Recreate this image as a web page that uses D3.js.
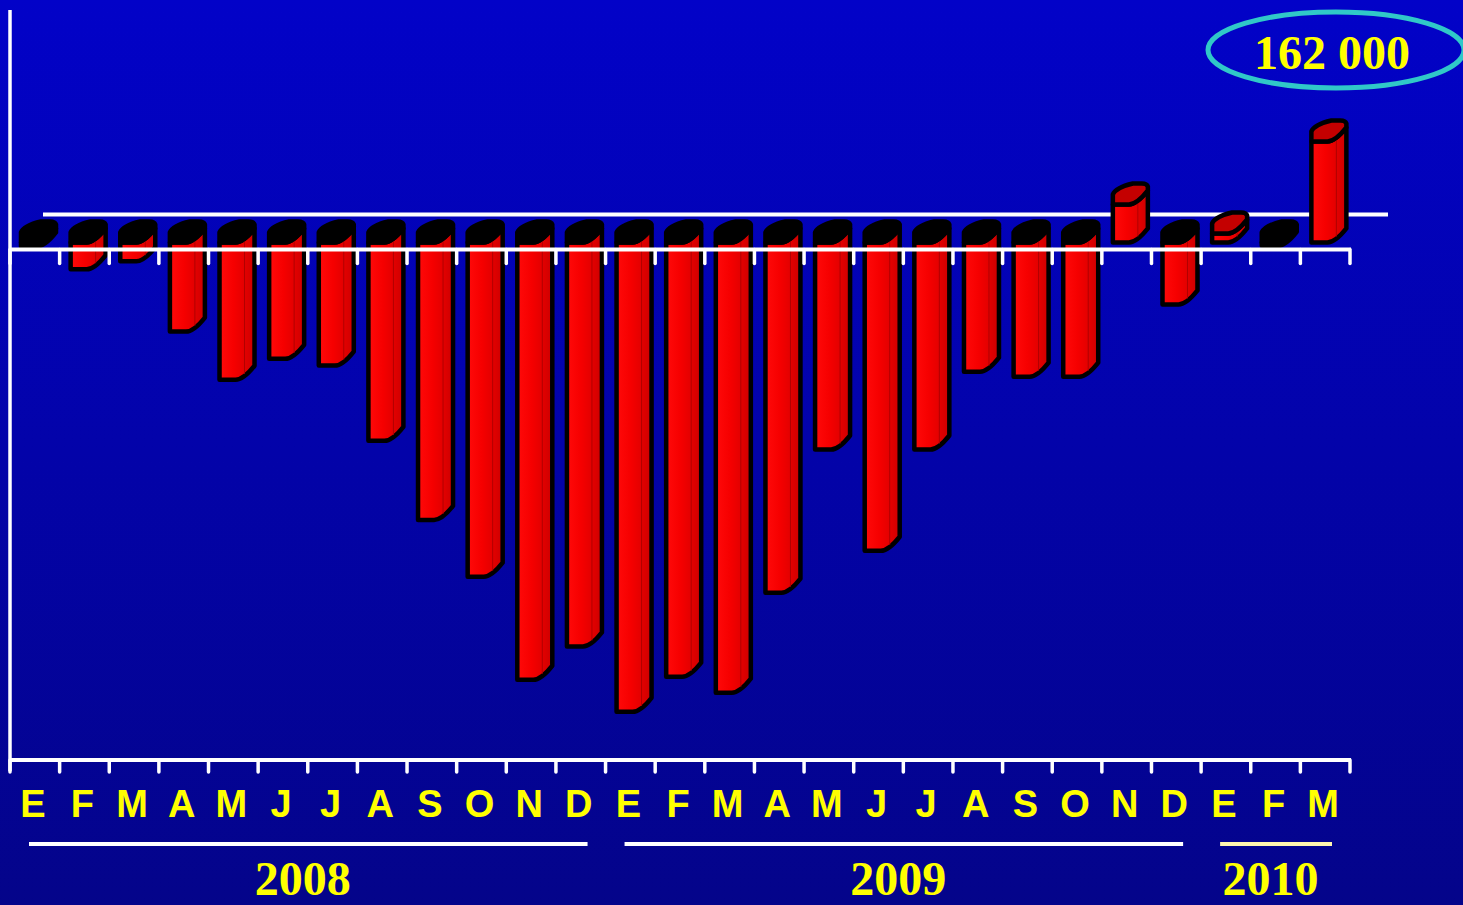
<!DOCTYPE html>
<html>
<head>
<meta charset="utf-8">
<script src="https://cdn.jsdelivr.net/npm/d3@7/dist/d3.min.js"></script>
<style>
  html, body { margin: 0; padding: 0; background: #0000b0; overflow: hidden; }
  svg { display: block; }
</style>
</head>
<body>
<svg id="chart" width="1463" height="905"></svg>
<script>
// ---- data (thousands) ----
const categories = [
  "2008-01","2008-02","2008-03","2008-04","2008-05","2008-06","2008-07","2008-08","2008-09","2008-10","2008-11","2008-12",
  "2009-01","2009-02","2009-03","2009-04","2009-05","2009-06","2009-07","2009-08","2009-09","2009-10","2009-11","2009-12",
  "2010-01","2010-02","2010-03"
];
const monthLabels = ["E","F","M","A","M","J","J","A","S","O","N","D",
                     "E","F","M","A","M","J","J","A","S","O","N","D",
                     "E","F","M"];
const values = [-8, -45, -32, -146, -224, -190, -201, -323, -451, -543, -710, -656,
                -762, -705, -731, -569, -337, -501, -337, -211, -219, -219, 60, -102,
                13, -7, 162];
const yearLabels = ["2008", "2009", "2010"];
const yearFirst = [0, 12, 24];
const yearLast = [11, 23, 26];
const annotationText = "162 000";

// ---- setup ----
const W = 1463, H = 905;
const svg = d3.select("#chart");
const defs = svg.append("defs");

const bg = defs.append("linearGradient").attr("id", "bg").attr("x1", 0).attr("y1", 0).attr("x2", 0).attr("y2", 1);
bg.append("stop").attr("offset", "0%").attr("stop-color", "#0202c8");
bg.append("stop").attr("offset", "100%").attr("stop-color", "#04048a");
svg.append("rect").attr("width", W).attr("height", H).attr("fill", "url(#bg)");

const bodyGrad = defs.append("linearGradient").attr("id", "bodyGrad").attr("x1", 0).attr("y1", 0).attr("x2", 1).attr("y2", 0);
bodyGrad.append("stop").attr("offset", "0%").attr("stop-color", "#ff0a0a");
bodyGrad.append("stop").attr("offset", "40%").attr("stop-color", "#f60000");
bodyGrad.append("stop").attr("offset", "70%").attr("stop-color", "#e40000");
bodyGrad.append("stop").attr("offset", "100%").attr("stop-color", "#cc0000");

const x = d3.scaleBand().domain(categories).range([10, 1350]).paddingInner(0).paddingOuter(0);
const y = d3.scaleLinear().domain([-840, 375]).range([760, 10]);
const y0 = y(0);

// ---- back wall line ----
svg.append("line")
  .attr("x1", 43).attr("x2", 1388)
  .attr("y1", y0 - 27).attr("y2", y0 - 27)
  .attr("stroke", "white").attr("stroke-width", 4);

// ---- bars ----
const BW = 35, F = 16, S = 14, CAP = 21, SW = 4.5;
function bodyPath(x0, top, bot) {
  return `M${x0},${top} L${x0},${bot} L${x0+F},${bot} Q${x0+F+8},${bot} ${x0+BW},${bot-S}` +
         ` L${x0+BW},${top-S} Q${x0+F+8},${top} ${x0+F},${top} Z`;
}
function capPath(x0, top) {
  return `M${x0},${top} L${x0+F},${top} Q${x0+F+8},${top} ${x0+BW},${top-S}` +
         ` L${x0+BW},${top-CAP+3} Q${x0+BW-1},${top-CAP} ${x0+BW-6},${top-CAP}` +
         ` L${x0+20},${top-CAP} Q${x0+3},${top-CAP+4} ${x0},${top-10} Z`;
}

const bars = svg.append("g").selectAll("g").data(categories).join("g");
bars.each(function(c, i) {
  const g = d3.select(this);
  const v = values[i];
  const x0 = x(c) + 11;
  let top, bot;
  if (v < 0) { top = y0 + 1; bot = y(v); }
  else { top = y(v); bot = y0 + 1; }
  g.append("path").attr("d", bodyPath(x0, top, bot))
    .attr("fill", "url(#bodyGrad)").attr("stroke", "black").attr("stroke-width", SW)
    .attr("stroke-linejoin", "round");
  if (bot - top > 6) {
    g.append("line").attr("x1", x0 + 25).attr("x2", x0 + 25)
      .attr("y1", top - 6).attr("y2", bot - 6)
      .attr("stroke", "#b00000").attr("stroke-width", 1);
  }
  g.append("path").attr("d", capPath(x0, top))
    .attr("fill", v < 0 ? "black" : "#c40000")
    .attr("stroke", "black").attr("stroke-width", SW)
    .attr("stroke-linejoin", "round");
});

// ---- zero (floor) axis ----
const zeroY = y0 + 8;
svg.append("line").attr("x1", 10).attr("x2", 1351).attr("y1", zeroY).attr("y2", zeroY)
  .attr("stroke", "white").attr("stroke-width", 4);
const tickX = categories.map(c => x(c)).concat([x.range()[1]]);
svg.append("g").selectAll("line").data(tickX).join("line")
  .attr("x1", d => d).attr("x2", d => d)
  .attr("y1", zeroY).attr("y2", zeroY + 14)
  .attr("stroke", "white").attr("stroke-width", 3.5).attr("stroke-linecap", "round");

// ---- y axis ----
svg.append("line").attr("x1", 10).attr("x2", 10).attr("y1", y.range()[1]).attr("y2", 771)
  .attr("stroke", "white").attr("stroke-width", 3.5);

// ---- bottom axis ----
const baseY = y.range()[0];
svg.append("line").attr("x1", 10).attr("x2", 1351).attr("y1", baseY).attr("y2", baseY)
  .attr("stroke", "white").attr("stroke-width", 4);
svg.append("g").selectAll("line").data(tickX).join("line")
  .attr("x1", d => d).attr("x2", d => d)
  .attr("y1", baseY).attr("y2", baseY + 12)
  .attr("stroke", "white").attr("stroke-width", 3.5).attr("stroke-linecap", "round");

// month labels
svg.append("g").selectAll("text").data(categories).join("text")
  .attr("x", c => x(c) + x.bandwidth() / 2 - 2)
  .attr("y", 817)
  .attr("text-anchor", "middle")
  .attr("font-family", "'Liberation Sans', Arial, sans-serif")
  .attr("font-weight", "bold")
  .attr("font-size", 38)
  .attr("fill", "#ffff00")
  .text((c, i) => monthLabels[i]);

// year underlines and labels
const yearColors = ["white", "white", "#fff6b0"];
yearLabels.forEach((yl, k) => {
  const xs = x(categories[yearFirst[k]]);
  const xe = x(categories[yearLast[k]]) + x.bandwidth();
  svg.append("line").attr("x1", xs + 19).attr("x2", xe - 18)
    .attr("y1", 844).attr("y2", 844)
    .attr("stroke", yearColors[k]).attr("stroke-width", 4);
  svg.append("text")
    .attr("x", (xs + xe) / 2 - 5).attr("y", 895)
    .attr("text-anchor", "middle")
    .attr("font-family", "'Liberation Serif', 'Times New Roman', serif")
    .attr("font-weight", "bold")
    .attr("font-size", 48)
    .attr("fill", "#ffff00")
    .text(yl);
});

// ---- annotation ----
svg.append("ellipse").attr("cx", 1336).attr("cy", 50).attr("rx", 128).attr("ry", 38)
  .attr("fill", "none").attr("stroke", "#30c8c8").attr("stroke-width", 5);
svg.append("text").attr("x", 1332).attr("y", 69)
  .attr("text-anchor", "middle")
  .attr("font-family", "'Liberation Serif', 'Times New Roman', serif")
  .attr("font-weight", "bold")
  .attr("font-size", 48)
  .attr("fill", "#ffff00")
  .text(annotationText);
</script>
</body>
</html>
